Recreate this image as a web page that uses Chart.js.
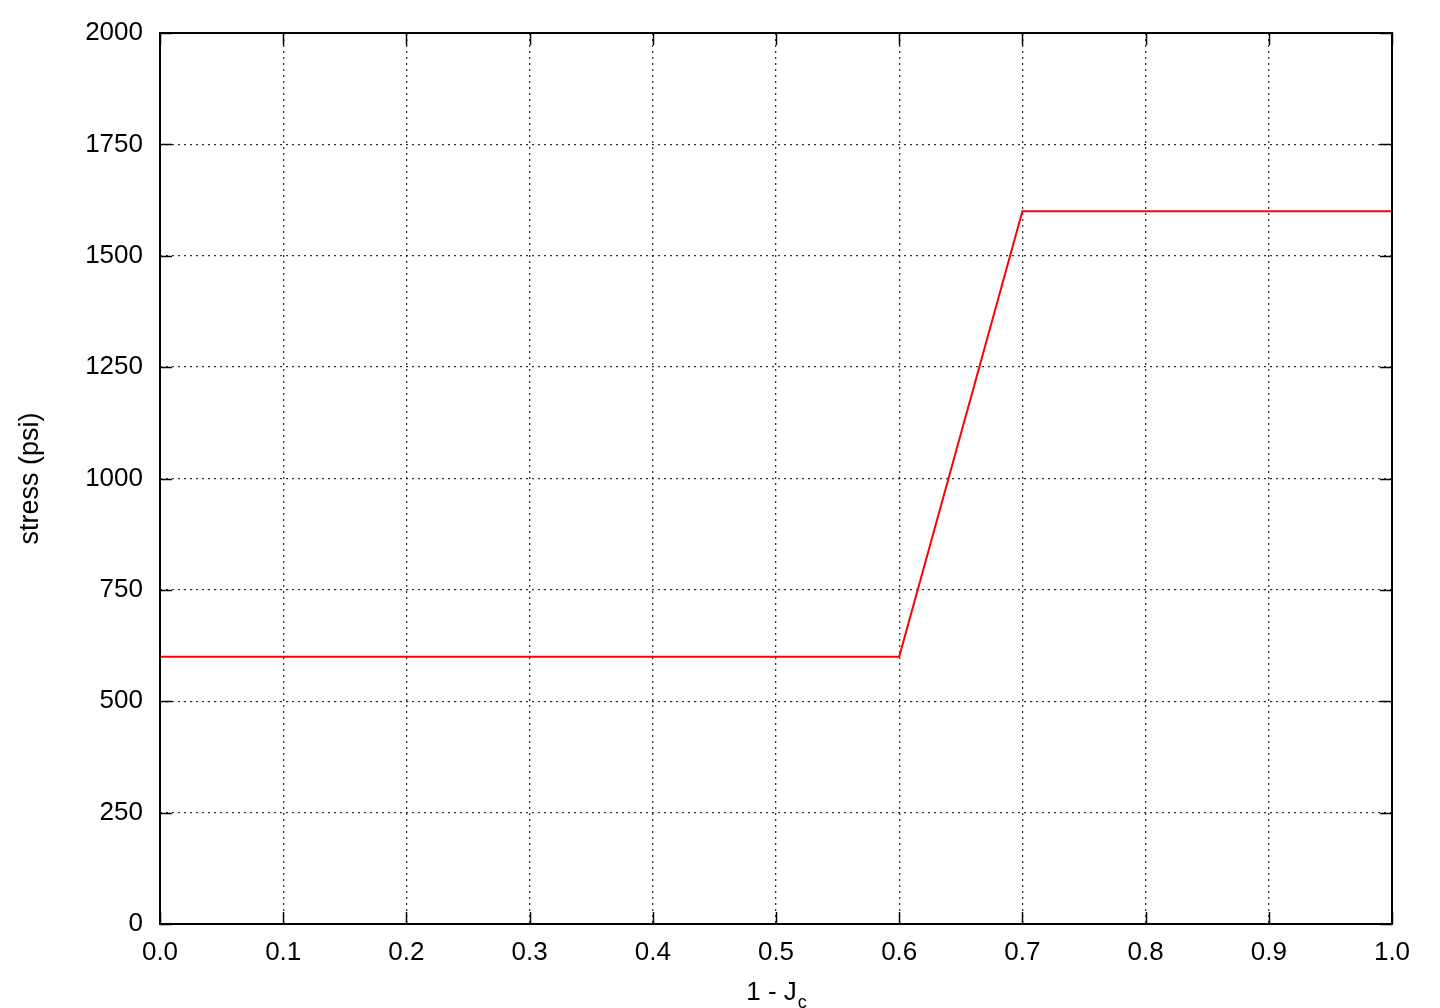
<!DOCTYPE html>
<html>
<head>
<meta charset="utf-8">
<script src="https://cdn.jsdelivr.net/npm/chart.js@4"></script>
<style>
  html, body { margin: 0; padding: 0; background: #fff; }
  #wrap { width: 1440px; height: 1008px; }
</style>
</head>
<body>
<div id="wrap"><canvas id="grafica" width="1440" height="1008"></canvas></div>
<script>
// data
const jc = [0.0, 0.6, 0.7, 1.0];
const stress = [600, 600, 1600, 1600];
const xTicks = [0, 0.1, 0.2, 0.3, 0.4, 0.5, 0.6, 0.7, 0.8, 0.9, 1.0];
const yTicks = [0, 250, 500, 750, 1000, 1250, 1500, 1750, 2000];

const fuente = '"Liberation Sans", Arial, Helvetica, sans-serif';
const tam = 26;

// gnuplot-like frame, inward ticks and axis titles
const marco = {
  id: 'marco',
  afterDraw(chart) {
    const ctx = chart.ctx;
    const a = chart.chartArea;
    const sx = chart.scales.x, sy = chart.scales.y;
    const len = 12;
    ctx.save();
    ctx.strokeStyle = '#000';
    ctx.lineWidth = 1.5;
    ctx.beginPath();
    xTicks.forEach(v => {
      const px = Math.round(sx.getPixelForValue(v)) + 0.5;
      ctx.moveTo(px, a.bottom); ctx.lineTo(px, a.bottom - len);
      ctx.moveTo(px, a.top); ctx.lineTo(px, a.top + len);
    });
    yTicks.forEach(v => {
      const py = Math.round(sy.getPixelForValue(v)) + 0.5;
      ctx.moveTo(a.left, py); ctx.lineTo(a.left + len, py);
      ctx.moveTo(a.right, py); ctx.lineTo(a.right - len, py);
    });
    ctx.stroke();
    ctx.lineWidth = 2;
    ctx.strokeRect(a.left, a.top, a.right - a.left, a.bottom - a.top);

    ctx.fillStyle = '#000';
    // y title
    ctx.save();
    ctx.translate(31, (a.top + a.bottom) / 2);
    ctx.rotate(-Math.PI / 2);
    ctx.font = '27px ' + fuente;
    ctx.textAlign = 'center';
    ctx.textBaseline = 'middle';
    ctx.fillText('stress (psi)', 0, 0);
    ctx.restore();

    // x title with subscript
    ctx.font = tam + 'px ' + fuente;
    const t1 = '1 - J';
    const w1 = ctx.measureText(t1).width;
    ctx.font = '18px ' + fuente;
    const w2 = ctx.measureText('c').width;
    const cx = (a.left + a.right) / 2;
    const x0 = cx - (w1 + w2) / 2;
    ctx.textAlign = 'left';
    ctx.textBaseline = 'alphabetic';
    ctx.font = tam + 'px ' + fuente;
    ctx.fillText(t1, x0, 1000);
    ctx.font = '18px ' + fuente;
    ctx.fillText('c', x0 + w1 + 1, 1008);
    ctx.restore();
  }
};

new Chart(document.getElementById('grafica'), {
  type: 'scatter',
  data: {
    datasets: [{
      data: jc.map((x, i) => ({ x: x, y: stress[i] })),
      showLine: true,
      borderColor: '#ff0000',
      borderWidth: 2,
      pointRadius: 0,
      fill: false,
      tension: 0
    }]
  },
  options: {
    responsive: false,
    animation: false,
    layout: { padding: { left: 0, top: 33, right: 48, bottom: 0 } },
    plugins: { legend: { display: false }, tooltip: { enabled: false } },
    scales: {
      x: {
        type: 'linear',
        min: 0, max: 1,
        afterFit(s) { s.height = 84; },
        afterBuildTicks(s) { s.ticks = xTicks.map(v => ({ value: v })); },
        grid: {
          color: 'rgba(0,0,0,0.8)',
          lineWidth: 1.3,
          drawTicks: false
        },
        border: { display: false, dash: [2, 4] },
        ticks: {
          color: '#000',
          padding: 13,
          font: { family: fuente, size: tam },
          callback: v => v.toFixed(1)
        }
      },
      y: {
        type: 'linear',
        min: 0, max: 2000,
        afterFit(s) { s.width = 160; },
        afterBuildTicks(s) { s.ticks = yTicks.map(v => ({ value: v })); },
        grid: {
          color: 'rgba(0,0,0,0.8)',
          lineWidth: 1.3,
          drawTicks: false
        },
        border: { display: false, dash: [2, 4] },
        ticks: {
          color: '#000',
          padding: 17,
          font: { family: fuente, size: tam },
          callback: v => String(v)
        }
      }
    }
  },
  plugins: [marco]
});
</script>
</body>
</html>
